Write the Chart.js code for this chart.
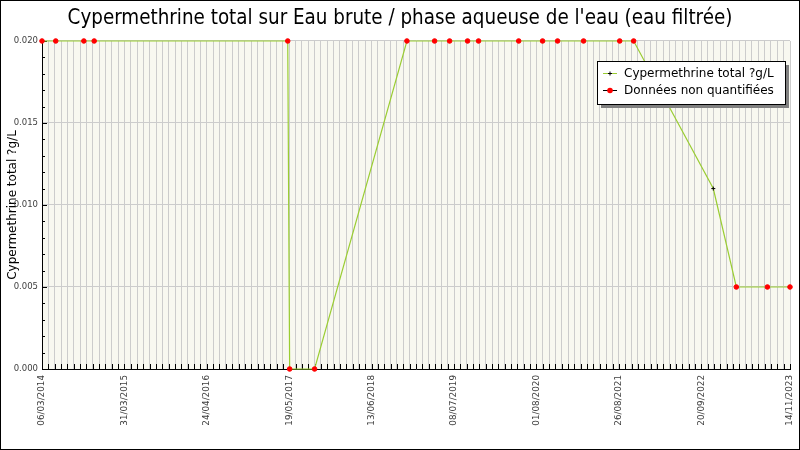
<!DOCTYPE html>
<html>
<head>
<meta charset="utf-8">
<script src="https://cdn.jsdelivr.net/npm/chart.js@4.4.1/dist/chart.umd.min.js"></script>
<style>
  html, body { margin: 0; padding: 0; background: #fff; }
  #wrap { width: 800px; height: 450px; position: relative; }
</style>
</head>
<body>
<div id="wrap"><canvas id="cypChart" width="800" height="450"></canvas></div>
<script>
// --- données ---
const axisStart = '2014-03-06';
const axisEnd = '2023-11-14';
const tickLabels = ['06/03/2014', '31/03/2015', '24/04/2016', '19/05/2017', '13/06/2018',
                    '08/07/2019', '01/08/2020', '26/08/2021', '20/09/2022', '14/11/2023'];
const sampleDates = ['2014-03-06', '2014-05-10', '2014-09-20', '2014-11-08', '2017-05-12',
                     '2017-05-21', '2017-09-16', '2018-11-27', '2019-04-07', '2019-06-17',
                     '2019-09-10', '2019-11-01', '2020-05-09', '2020-08-30', '2020-11-09',
                     '2021-03-12', '2021-08-30', '2021-11-04', '2022-11-16', '2023-03-05',
                     '2023-07-30', '2023-11-14'];
const sampleValues = [0.020, 0.020, 0.020, 0.020, 0.020,
                      0.000, 0.000, 0.020, 0.020, 0.020,
                      0.020, 0.020, 0.020, 0.020, 0.020,
                      0.020, 0.020, 0.020, 0.011, 0.005,
                      0.005, 0.005];
const quantified = [false, false, false, false, false,
                    false, false, false, false, false,
                    false, false, false, false, false,
                    false, false, false, true, false,
                    false, false];
const seriesLabel = 'Cypermethrine total ?g/L';
const nqLabel = 'Données non quantifiées';
const titleText = "Cypermethrine total sur Eau brute / phase aqueuse de l'eau (eau filtrée)";

const DAY = 86400000;
const t0 = Date.parse(axisStart);
const dayOf = s => (Date.parse(s) - t0) / DAY;
const fmtDay = v => {
    const d = new Date(t0 + Math.round(v) * DAY);
    const p = n => String(n).padStart(2, '0');
    return p(d.getUTCDate()) + '/' + p(d.getUTCMonth() + 1) + '/' + d.getUTCFullYear();
};

const LINE_GREEN = '#9acd32';
const GRID = '#cccccc';
const TXT = '#404040';

// fond crème + cadre + petites graduations intérieures + légende
const decor = {
    id: 'decor',
    beforeDraw(chart) {
        const { ctx, chartArea: a } = chart;
        ctx.save();
        ctx.fillStyle = '#f8f8f0';
        ctx.fillRect(a.left, a.top, a.right - a.left, a.bottom - a.top);
        ctx.restore();
    },
    beforeDatasetsDraw(chart) {
        const { ctx, chartArea: a, scales } = chart;
        ctx.save();
        ctx.strokeStyle = '#000';
        ctx.lineWidth = 1;
        ctx.beginPath();
        scales.x.ticks.forEach(t => {
            const px = Math.round(scales.x.getPixelForValue(t.value)) + 0.5;
            ctx.moveTo(px, a.bottom);
            ctx.lineTo(px, a.bottom - 5);
        });
        for (let i = 0; i <= 20; i++) {
            const py = Math.round(scales.y.getPixelForValue(i / 1000)) + 0.5;
            const len = i % 5 === 0 ? 5 : 3;
            ctx.moveTo(a.left, py);
            ctx.lineTo(a.left + len, py);
        }
        ctx.stroke();
        ctx.restore();
    },
    afterDraw(chart) {
        const { ctx } = chart;
        ctx.save();
        // légende
        const bx = 597, by = 61, bw = 188, bh = 43;
        ctx.fillStyle = '#808080';
        ctx.fillRect(bx + 4, by + 4, bw, bh);
        ctx.fillStyle = '#fff';
        ctx.fillRect(bx, by, bw, bh);
        ctx.strokeStyle = '#000';
        ctx.lineWidth = 1;
        ctx.strokeRect(bx + 0.5, by + 0.5, bw, bh);

        ctx.font = '12px "DejaVu Sans"';
        ctx.textBaseline = 'middle';
        ctx.fillStyle = '#000';
        // ligne 1
        ctx.strokeStyle = LINE_GREEN;
        ctx.beginPath(); ctx.moveTo(603, 73.5); ctx.lineTo(617, 73.5); ctx.stroke();
        ctx.strokeStyle = '#000';
        ctx.beginPath(); ctx.moveTo(608, 73.5); ctx.lineTo(612, 73.5);
        ctx.moveTo(610, 71.5); ctx.lineTo(610, 75.5); ctx.stroke();
        ctx.fillText(seriesLabel, 624, 74);
        // ligne 2
        ctx.strokeStyle = '#000';
        ctx.beginPath(); ctx.moveTo(603, 90.5); ctx.lineTo(617, 90.5); ctx.stroke();
        ctx.fillStyle = '#ff0000';
        ctx.beginPath(); ctx.arc(610, 90.5, 2.8, 0, Math.PI * 2); ctx.fill();
        ctx.fillStyle = '#000';
        ctx.fillText(nqLabel, 624, 91);

        // cadre extérieur
        ctx.strokeStyle = '#000';
        ctx.strokeRect(0.5, 0.5, 799, 449);
        ctx.restore();
    }
};

const points = sampleDates.map((d, i) => ({ x: dayOf(d), y: sampleValues[i] }));

new Chart(document.getElementById('cypChart'), {
    type: 'line',
    data: {
        datasets: [{
            label: seriesLabel,
            data: points,
            borderColor: LINE_GREEN,
            borderWidth: 1.2,
            tension: 0,
            clip: false,
            pointStyle: quantified.map(q => q ? 'cross' : 'circle'),
            pointRadius: quantified.map(q => q ? 2 : 2.3),
            pointBorderWidth: 1,
            pointBackgroundColor: quantified.map(q => q ? '#000' : '#ff0000'),
            pointBorderColor: quantified.map(q => q ? '#000' : '#ff0000')
        }]
    },
    options: {
        responsive: false,
        animation: false,
        devicePixelRatio: 1,
        layout: { autoPadding: false, padding: 0 },
        plugins: {
            legend: { display: false },
            tooltip: { enabled: false },
            title: {
                display: true,
                text: titleText,
                color: '#000',
                font: { family: '"DejaVu Sans Condensed", "DejaVu Sans"', size: 20.4, weight: 'normal', lineHeight: 1.2 },
                padding: { top: 6.5, bottom: 10 }
            }
        },
        scales: {
            x: {
                type: 'linear',
                min: 0,
                max: dayOf(axisEnd),
                afterFit: s => { s.height = 81; s.paddingLeft = 0; s.paddingRight = 10; },
                ticks: {
                    stepSize: 30,
                    autoSkip: false,
                    minRotation: 90,
                    maxRotation: 90,
                    padding: 6,
                    color: TXT,
                    font: { family: '"DejaVu Sans"', size: 8.8 },
                    callback: v => {
                        const s = fmtDay(v);
                        return tickLabels.includes(s) ? s : '';
                    }
                },
                grid: { color: GRID, drawTicks: false },
                border: { color: '#000', width: 1 }
            },
            y: {
                min: 0,
                max: 0.02,
                afterFit: s => { s.width = 42; s.paddingTop = 0; s.paddingBottom = 0; },
                ticks: {
                    stepSize: 0.005,
                    padding: 4,
                    color: TXT,
                    font: { family: '"DejaVu Sans"', size: 8.5 },
                    callback: v => v.toFixed(3)
                },
                grid: { color: GRID, drawTicks: false },
                border: { color: '#000', width: 1 },
                title: {
                    display: true,
                    text: seriesLabel,
                    color: '#000',
                    font: { family: '"DejaVu Sans"', size: 12 },
                    padding: { top: 5.5, bottom: 0 }
                }
            }
        }
    },
    plugins: [decor]
});
</script>
</body>
</html>
